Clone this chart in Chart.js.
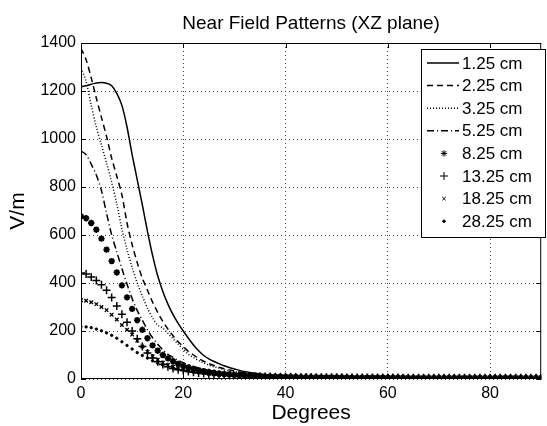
<!DOCTYPE html>
<html>
<head>
<meta charset="utf-8">
<script src="https://cdn.jsdelivr.net/npm/chart.js@4/dist/chart.umd.min.js"></script>
<style>
  body { margin: 0; background: #fff; }
  #wrap { width: 547px; height: 426px; }
</style>
</head>
<body>
<div id="wrap"><canvas id="nearField" width="547" height="426"></canvas></div>
<script>
// sample angles (degrees)
const degrees = [0,1,2,3,4,5,6,7,8,9,10,11,12,13,14,15,16,17,18,19,20,21,22,23,24,25,26,27,28,29,30,
  31,32,33,34,35,36,37,38,39,40,41,42,43,44,45,46,47,48,49,50,51,52,53,54,55,56,57,58,59,60,
  61,62,63,64,65,66,67,68,69,70,71,72,73,74,75,76,77,78,79,80,81,82,83,84,85,86,87,88,89,90];

const seriesLabels = ['1.25 cm', '2.25 cm', '3.25 cm', '5.25 cm', '8.25 cm', '13.25 cm', '18.25 cm', '28.25 cm'];

// field values V/m
const d125 = [1218,1222,1228,1233,1235,1232,1222,1190,1140,1050,935,830,725,615,515,430,365,312,268,232,200,170,142,118,98,84,73,64,55,48,42,36,31,27,24,21,18,16,14,12,11,
  10,10,9,9,8,8,8,7,7,7,6,6,6,6,5,5,5,5,5,5,5,4,4,4,4,4,4,4,4,4,4,4,4,3,3,3,3,3,3,3,3,3,3,3,3,3,3,3,3,3];
const d225 = [1378,1330,1255,1170,1090,1010,920,845,767,650,560,485,420,370,320,278,240,208,180,155,135,115,100,86,74,64,56,49,43,38,33,29,26,23,20,18,16,14,12,11,10,
  9,9,8,8,8,7,7,7,6,6,6,6,5,5,5,5,5,5,4,4,4,4,4,4,4,4,4,4,4,3,3,3,3,3,3,3,3,3,3,3,3,3,3,3,3,3,3,3,3,3];
const d325 = [1295,1240,1140,1050,975,900,820,730,625,540,465,400,345,295,255,225,212,190,168,145,124,103,89,77,67,58,51,45,39,34,30,27,24,21,19,17,15,13,12,11,10,
  9,9,8,8,7,7,7,7,6,6,6,6,5,5,5,5,5,4,4,4,4,4,4,4,4,4,4,4,3,3,3,3,3,3,3,3,3,3,3,3,3,3,3,3,3,3,3,3,3,3];
const d525 = [950,935,895,850,785,690,600,530,460,395,335,285,245,205,172,145,122,103,90,78,68,60,52,46,40,36,32,28,25,22,20,18,16,14,13,12,11,10,9,9,8,
  8,7,7,7,6,6,6,6,5,5,5,5,5,5,4,4,4,4,4,4,4,4,4,4,3,3,3,3,3,3,3,3,3,3,3,3,3,3,3,3,3,3,3,2,2,2,2,2,2,2];
const d825 = [678,670,650,622,585,539,491,444,390,340,292,245,205,170,140,118,100,86,74,63,55,48,42,37,33,29,26,23,21,19,17,16,15,14,13,12,11,11,10,10,9,
  9,9,8,8,8,8,7,7,7,7,7,7,6,6,6,6,6,6,6,6,6,6,6,5,5,5,5,5,5,5,5,5,5,5,5,5,5,5,5,5,5,5,5,5,5,5,5,5,5,5];
const d1325 = [442,437,425,410,393,370,340,304,270,236,200,168,135,108,87,72,60,51,44,39,35,31,28,25,23,21,19,17,16,15,14,13,12,12,11,11,10,10,9,9,9,
  9,8,8,8,8,7,7,7,7,7,7,6,6,6,6,6,6,6,6,6,6,6,5,5,5,5,5,5,5,5,5,5,5,5,5,5,5,5,5,5,5,5,5,5,5,5,5,5,5,5];
const d1825 = [328,326,320,312,300,287,268,248,225,205,185,160,135,113,95,80,68,58,51,45,40,35,31,28,25,22,20,18,17,16,15,14,13,12,12,11,11,10,10,9,9,
  9,8,8,8,7,7,7,7,7,7,6,6,6,6,6,6,6,6,6,6,5,5,5,5,5,5,5,5,5,5,5,5,5,5,5,5,5,5,5,5,5,5,5,5,5,5,5,5,5,5];
const d2825 = [218,217,214,208,201,192,182,170,155,140,125,110,98,87,76,66,58,51,45,41,37,33,29,26,23,21,19,17,16,15,14,13,12,11,11,10,10,9,9,8,8,
  8,8,7,7,7,7,7,6,6,6,6,6,6,6,6,5,5,5,5,5,5,5,5,5,5,5,5,5,5,5,5,5,5,5,5,5,5,5,5,5,5,5,5,5,5,5,5,5,5,5];

const xTicks = [0, 20, 40, 60, 80];
const yTicks = [0, 200, 400, 600, 800, 1000, 1200, 1400];

const FONT = "'Liberation Sans', Arial, Helvetica, sans-serif";

function pts(vals) {
    return vals.map((v, i) => ({ x: degrees[i], y: v }));
}

// line series styles (matlab -, --, :, -.)
const lineStyles = [[], [6, 4], [1, 2], [7, 3, 1, 3]];
// marker series styles (matlab *, +, x, .)
const markerStyles = [
    { pointStyle: 'star', radius: 3.2, borderWidth: 1.8 },
    { pointStyle: 'cross', radius: 4, borderWidth: 1.5 },
    { pointStyle: 'crossRot', radius: 2.5, borderWidth: 1.3 },
    { pointStyle: 'circle', radius: 1.2, borderWidth: 1 }
];

const allData = [d125, d225, d325, d525, d825, d1325, d1825, d2825];

const datasets = allData.map((vals, i) => {
    if (i < 4) {
        return {
            label: seriesLabels[i],
            data: pts(vals),
            showLine: true,
            borderColor: '#000',
            borderWidth: 1.5,
            borderDash: lineStyles[i],
            pointRadius: 0,
            fill: false,
            tension: 0.3
        };
    }
    const m = markerStyles[i - 4];
    return {
        label: seriesLabels[i],
        data: pts(vals),
        showLine: false,
        borderColor: '#000',
        backgroundColor: '#000',
        pointStyle: m.pointStyle,
        pointRadius: m.radius,
        pointBorderWidth: m.borderWidth
    };
});

// draws frame, inward ticks, title and the boxed legend
const matlabLook = {
    id: 'matlabLook',
    afterDraw(chart) {
        const ctx = chart.ctx;
        const area = chart.chartArea;
        const xs = chart.scales.x, ys = chart.scales.y;
        ctx.save();
        ctx.strokeStyle = '#000';
        ctx.lineWidth = 1;
        ctx.setLineDash([]);
        ctx.strokeRect(area.left + 0.5, area.top + 0.5, area.right - area.left - 1, area.bottom - area.top - 1);

        // inward tick marks
        ctx.beginPath();
        xTicks.forEach(t => {
            const px = Math.round(xs.getPixelForValue(t)) + 0.5;
            ctx.moveTo(px, area.bottom); ctx.lineTo(px, area.bottom - 5);
            ctx.moveTo(px, area.top); ctx.lineTo(px, area.top + 5);
        });
        yTicks.forEach(t => {
            const py = Math.round(ys.getPixelForValue(t)) + 0.5;
            ctx.moveTo(area.left, py); ctx.lineTo(area.left + 5, py);
            ctx.moveTo(area.right, py); ctx.lineTo(area.right - 5, py);
        });
        ctx.stroke();

        // title
        ctx.fillStyle = '#000';
        ctx.font = '19px ' + FONT;
        ctx.textAlign = 'center';
        ctx.textBaseline = 'middle';
        ctx.fillText('Near Field Patterns (XZ plane)', (area.left + area.right) / 2, 24);

        // legend box
        const bx = 421, by = 49, bw = 125, bh = 189;
        ctx.fillStyle = '#fff';
        ctx.fillRect(bx, by, bw, bh);
        ctx.strokeRect(bx + 0.5, by + 0.5, bw - 1, bh - 1);
        ctx.font = '17px ' + FONT;
        ctx.textAlign = 'left';
        ctx.fillStyle = '#000';
        seriesLabels.forEach((lab, i) => {
            const ry = 63 + i * 22.6;
            if (i < 4) {
                ctx.save();
                ctx.lineWidth = 1.5;
                ctx.setLineDash(lineStyles[i]);
                ctx.beginPath();
                ctx.moveTo(427, ry); ctx.lineTo(459, ry);
                ctx.stroke();
                ctx.restore();
            } else {
                const m = markerStyles[i - 4];
                Chart.helpers.drawPoint(ctx, {
                    pointStyle: m.pointStyle, radius: m.radius, borderWidth: m.borderWidth, rotation: 0
                }, 444, ry);
                ctx.fill();
            }
            ctx.fillText(lab, 462, ry + 1);
        });
        ctx.restore();
    }
};

new Chart(document.getElementById('nearField'), {
    type: 'scatter',
    data: { datasets: datasets },
    options: {
        responsive: false,
        animation: false,
        devicePixelRatio: 1,
        layout: { padding: { top: 43, right: 1, left: 0, bottom: 0 } },
        plugins: { legend: { display: false }, title: { display: false }, tooltip: { enabled: false } },
        scales: {
            x: {
                type: 'linear',
                min: 0, max: 90,
                afterBuildTicks: (scale) => { scale.ticks = xTicks.map(v => ({ value: v })); },
                afterFit: (scale) => { scale.height = 47; },
                ticks: { color: '#000', font: { family: FONT, size: 16 }, padding: 5, maxRotation: 0, callback: (v) => String(v) },
                grid: { color: '#444', drawTicks: false, lineWidth: 1 },
                border: { display: false, dash: [1, 3] },
                title: { display: true, text: 'Degrees', color: '#000', font: { family: FONT, size: 21 }, padding: { top: 0, bottom: 0 } }
            },
            y: {
                min: 0, max: 1400,
                afterBuildTicks: (scale) => { scale.ticks = yTicks.map(v => ({ value: v })); },
                afterFit: (scale) => { scale.width = 81; },
                ticks: { color: '#000', font: { family: FONT, size: 16 }, padding: 5, callback: (v) => String(v) },
                grid: { color: '#444', drawTicks: false, lineWidth: 1 },
                border: { display: false, dash: [1, 3] },
                title: { display: true, text: 'V/m', color: '#000', font: { family: FONT, size: 21 }, padding: { top: 6, bottom: 0 } }
            }
        }
    },
    plugins: [matlabLook]
});
</script>
</body>
</html>
